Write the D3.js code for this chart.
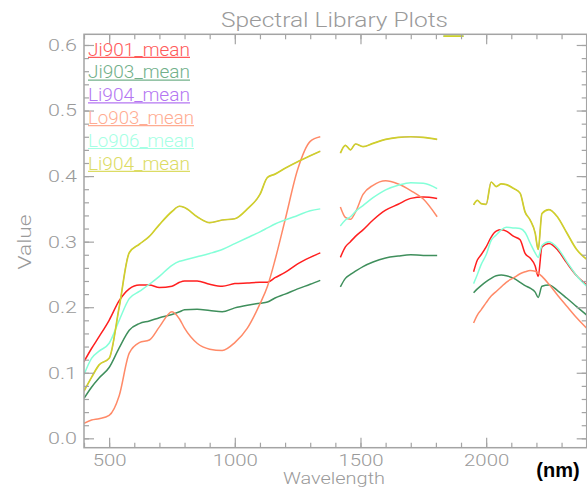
<!DOCTYPE html>
<html><head><meta charset="utf-8">
<script src="https://cdn.jsdelivr.net/npm/d3@7"></script>
<style>
html,body{margin:0;padding:0;background:#fff;}
svg{display:block;}
.lbl{font-family:"Roboto","DejaVu Sans",sans-serif;font-weight:300;fill:#9a9a9a;}
</style></head>
<body><svg id="c" width="587" height="489"></svg>
<script>
// ---------- data ----------
const seriesNames = ["Ji901_mean","Ji903_mean","Li904_mean","Lo903_mean","Lo906_mean","Li904_mean"];
const lineColors  = ["#ff1f1f","#3f8f5c","#a455f0","#ff8a68","#84ffd8","#d0d02a"];
const legendColors= ["#ff5a5a","#72b08a","#b476f2","#ffac92","#a6ffe4","#dcdc64"];

const wl1 = [400,430,460,500,540,580,620,660,700,750,780,800,850,900,950,1000,1050,1100,1130,1160,1200,1250,1300,1340];
const wl2 = [1420,1440,1460,1480,1510,1550,1600,1650,1700,1750,1805];
const wl3 = [1950,1965,1980,2000,2020,2040,2060,2080,2110,2135,2155,2175,2195,2207,2222,2250,2285,2320,2360,2400];
const wl4 = [1830,1910];

const ji901_1 = [0.117,0.137,0.155,0.180,0.210,0.228,0.234,0.234,0.230,0.232,0.238,0.240,0.240,0.235,0.232,0.236,0.237,0.238,0.238,0.245,0.253,0.266,0.276,0.283];
const ji901_2 = [0.276,0.292,0.300,0.308,0.318,0.333,0.348,0.357,0.366,0.368,0.366];
const ji901_3 = [0.254,0.272,0.280,0.292,0.307,0.316,0.318,0.316,0.308,0.303,0.282,0.275,0.263,0.247,0.292,0.297,0.287,0.268,0.248,0.234];

const ji903_1 = [0.061,0.078,0.092,0.108,0.138,0.165,0.175,0.179,0.184,0.189,0.193,0.196,0.197,0.195,0.193,0.199,0.203,0.206,0.208,0.214,0.220,0.228,0.235,0.241];
const ji903_2 = [0.231,0.244,0.250,0.255,0.262,0.269,0.275,0.278,0.280,0.279,0.279];
const ji903_3 = [0.222,0.228,0.233,0.239,0.244,0.248,0.249,0.248,0.244,0.238,0.233,0.229,0.223,0.215,0.232,0.234,0.225,0.214,0.201,0.188];

const lo903_1 = [0.023,0.028,0.030,0.035,0.065,0.130,0.146,0.150,0.170,0.193,0.182,0.168,0.145,0.136,0.134,0.146,0.168,0.205,0.232,0.272,0.333,0.410,0.453,0.460];
const lo903_2 = [0.353,0.337,0.334,0.345,0.372,0.386,0.393,0.388,0.378,0.365,0.338];
const lo903_3 = [0.176,0.188,0.196,0.207,0.217,0.224,0.231,0.238,0.245,0.251,0.254,0.256,0.255,0.252,0.247,0.235,0.218,0.202,0.184,0.168];

const lo906_1 = [0.097,0.122,0.133,0.145,0.180,0.213,0.224,0.235,0.247,0.264,0.270,0.272,0.277,0.282,0.288,0.297,0.306,0.315,0.321,0.327,0.333,0.340,0.347,0.350];
const lo906_2 = [0.324,0.333,0.338,0.346,0.355,0.367,0.379,0.386,0.390,0.389,0.381];
const lo906_3 = [0.236,0.250,0.265,0.280,0.302,0.310,0.318,0.322,0.321,0.320,0.314,0.298,0.283,0.276,0.294,0.300,0.290,0.270,0.248,0.232];
const lo906_4 = [0.6135,0.6135];

const li904_1 = [0.072,0.093,0.112,0.122,0.200,0.283,0.296,0.308,0.326,0.346,0.354,0.352,0.338,0.329,0.333,0.335,0.350,0.372,0.398,0.403,0.412,0.422,0.431,0.438];
const li904_2 = [0.435,0.447,0.440,0.449,0.445,0.450,0.456,0.459,0.460,0.459,0.456];
const li904_3 = [0.356,0.363,0.358,0.357,0.391,0.384,0.388,0.387,0.381,0.374,0.345,0.333,0.313,0.288,0.343,0.349,0.337,0.314,0.288,0.273];
const li904_4 = [0.6135,0.6135];

const xMajor = [500,1000,1500,2000];
const yMajor = [0.0,0.1,0.2,0.3,0.4,0.5,0.6];
const yLabels = ["0.0","0.1","0.2","0.3","0.4","0.5","0.6"];

// ---------- layout ----------
const L=84, R=586.7, T=34.3, B=447.7;
const x = d3.scaleLinear().domain([400,2400]).range([L,R]);
const y = d3.scaleLinear().domain([-0.0143,0.6163]).range([B,T]);
const svg = d3.select("#c");

const segs = (arrs, wls) => arrs.map((a,i)=> a ? a.map((v,j)=>[wls[i][j],v]) : null).filter(Boolean);
const wls = [wl1,wl2,wl3,wl4];
const seriesData = [
  segs([ji901_1,ji901_2,ji901_3,null],wls),
  segs([ji903_1,ji903_2,ji903_3,null],wls),
  segs([li904_1,li904_2,li904_3,li904_4],wls),
  segs([lo903_1,lo903_2,lo903_3,null],wls),
  segs([lo906_1,lo906_2,lo906_3,lo906_4],wls),
  segs([li904_1,li904_2,li904_3,li904_4],wls)
];
const widths = [1.5,1.5,0.8,1.5,1.5,1.7];

svg.append("defs").append("clipPath").attr("id","clip")
  .append("rect").attr("x",L).attr("y",T).attr("width",R-L).attr("height",B-T);

const line = d3.line().x(d=>x(d[0])).y(d=>y(d[1])).curve(d3.curveMonotoneX);
const g = svg.append("g").attr("clip-path","url(#clip)");
seriesData.forEach((sd,i)=>{
  sd.forEach(seg=>{
    g.append("path").attr("d",line(seg)).attr("fill","none")
     .attr("stroke",lineColors[i]).attr("stroke-width",widths[i]);
  });
});

// ---------- axes ----------
const axisColor="#a4a4a4";
function styleAxis(sel){
  sel.select(".domain").remove();
  sel.selectAll(".tick line").attr("stroke",axisColor).attr("stroke-width",1.2);
  sel.selectAll("text").attr("class","lbl").style("font-size","17px").attr("fill","#9a9a9a")
    .attr("lengthAdjust","spacingAndGlyphs")
    .attr("textLength",function(){ const t=this.textContent; return t.includes(".") ? 29 : t.length*11.3; });
}
const xMinor = d3.range(400,2401,100);
const yMinor = d3.range(0,0.6001,0.02);
// bottom
svg.append("g").attr("transform",`translate(0,${B})`)
  .call(d3.axisBottom(x).tickValues(xMinor).tickSize(-5).tickFormat("")).call(styleAxis);
svg.append("g").attr("transform",`translate(0,${B})`)
  .call(d3.axisBottom(x).tickValues(xMajor).tickSize(-10).tickPadding(6).tickFormat(d3.format("d"))).call(styleAxis);
// top
svg.append("g").attr("transform",`translate(0,${T})`)
  .call(d3.axisTop(x).tickValues(xMinor).tickSize(-5).tickFormat("")).call(styleAxis);
svg.append("g").attr("transform",`translate(0,${T})`)
  .call(d3.axisTop(x).tickValues(xMajor).tickSize(-10).tickFormat("")).call(styleAxis);
// left
svg.append("g").attr("transform",`translate(${L},0)`)
  .call(d3.axisLeft(y).tickValues(yMinor).tickSize(-5).tickFormat("")).call(styleAxis);
svg.append("g").attr("transform",`translate(${L},0)`)
  .call(d3.axisLeft(y).tickValues(yMajor).tickSize(-10).tickPadding(7).tickFormat((d,i)=>yLabels[i])).call(styleAxis);
// right
svg.append("g").attr("transform",`translate(${R},0)`)
  .call(d3.axisRight(y).tickValues(yMinor).tickSize(-5).tickFormat("")).call(styleAxis);
svg.append("g").attr("transform",`translate(${R},0)`)
  .call(d3.axisRight(y).tickValues(yMajor).tickSize(-10).tickFormat("")).call(styleAxis);

svg.append("rect").attr("x",L).attr("y",T).attr("width",R-L).attr("height",B-T)
  .attr("fill","none").attr("stroke",axisColor).attr("stroke-width",1.5);

// ---------- titles ----------
svg.append("text").attr("class","lbl").attr("x",334.5).attr("y",27).attr("text-anchor","middle")
  .style("font-size","20px").attr("textLength",227).attr("lengthAdjust","spacingAndGlyphs")
  .text("Spectral Library Plots");
svg.append("text").attr("class","lbl").attr("x",334).attr("y",483.5).attr("text-anchor","middle")
  .style("font-size","16px").attr("textLength",102).attr("lengthAdjust","spacingAndGlyphs")
  .text("Wavelength");
svg.append("text").attr("class","lbl").attr("transform","translate(31,242) rotate(-90)").attr("text-anchor","middle")
  .style("font-size","18px").attr("textLength",55).attr("lengthAdjust","spacingAndGlyphs")
  .text("Value");
svg.append("text").attr("x",558).attr("y",477).attr("text-anchor","middle")
  .style("font-family","Arial, 'Liberation Sans', sans-serif").style("font-weight","bold")
  .style("font-size","20px").attr("fill","#000").text("(nm)");

// ---------- legend ----------
const legY0 = 55.5, legDy = 22.8;
seriesNames.forEach((n,i)=>{
  const yy = legY0 + i*legDy;
  const w = (n.startsWith("Lo")) ? 106 : 102;
  svg.append("text").attr("x",88).attr("y",yy).attr("class","lbl")
    .style("font-size","19px").style("fill",legendColors[i])
    .attr("textLength",w).attr("lengthAdjust","spacingAndGlyphs").text(n);
  svg.append("line").attr("x1",88).attr("x2",88+w).attr("y1",yy+1.8).attr("y2",yy+1.8)
    .attr("stroke",legendColors[i]).attr("stroke-width",1.2);
});
</script></body></html>
